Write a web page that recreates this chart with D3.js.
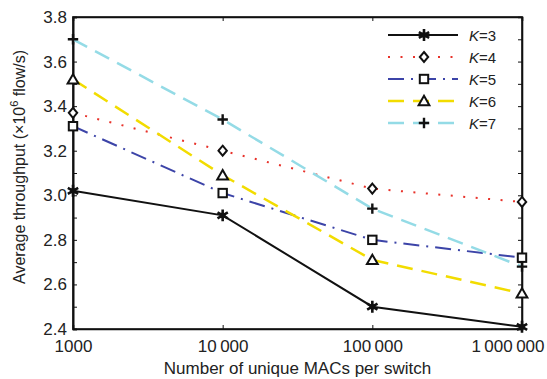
<!DOCTYPE html>
<html lang="en">
<head>
<meta charset="UTF-8">
<title>Average throughput vs unique MACs</title>
<script src="https://d3js.org/d3.v7.min.js"></script>
<style>
  body { margin: 0; background: #fff; }
  text { font-family: "Liberation Sans", Arial, sans-serif; fill: #222; }
</style>
</head>
<body>
<div id="chart"></div>
<script>
// data
const macs = [1000, 10000, 100000, 1000000];
const xTickLabels = ["1000", "10\u2009000", "100\u2009000", "1\u2009000\u2009000"];
const yTicks = [2.4, 2.6, 2.8, 3.0, 3.2, 3.4, 3.6, 3.8];
const k3 = [3.02, 2.91, 2.50, 2.41];
const k4 = [3.37, 3.20, 3.03, 2.97];
const k5 = [3.31, 3.01, 2.80, 2.72];
const k6 = [3.52, 3.09, 2.71, 2.56];
const k7 = [3.70, 3.34, 2.94, 2.68];
const seriesNames = ["3", "4", "5", "6", "7"];

const series = [
  {name: seriesNames[0], values: k3, color: "#111", dash: null, width: 2, marker: "star"},
  {name: seriesNames[1], values: k4, color: "#e8322a", dash: "2,10.5", width: 2, marker: "diamond"},
  {name: seriesNames[2], values: k5, color: "#3c44a8", dash: "16,7,2,7", width: 2, marker: "square"},
  {name: seriesNames[3], values: k6, color: "#f2dc00", dash: "16,9", width: 2.5, marker: "triangle"},
  {name: seriesNames[4], values: k7, color: "#94dbe6", dash: "16,9", width: 2.5, marker: "plus"}
];

const W = 547, H = 379;
const margin = {top: 17, right: 25, bottom: 50, left: 73};
const width = W - margin.left - margin.right;
const height = H - margin.top - margin.bottom;

const svg = d3.select("#chart").append("svg")
  .attr("width", W).attr("height", H);
const g = svg.append("g").attr("transform", `translate(${margin.left},${margin.top})`);

const x = d3.scaleLog().domain([1000, 1000000]).range([0, width]);
const y = d3.scaleLinear().domain([2.4, 3.8]).range([height, 0]);

// axes (ticks pointing inward, MATLAB style)
const minorY = d3.range(2.5, 3.8, 0.2);
const xAxis = g.append("g").attr("transform", `translate(0,${height})`)
  .call(d3.axisBottom(x).tickValues(macs).tickSize(-4).tickPadding(11)
    .tickFormat((d, i) => xTickLabels[i]));
g.append("g")
  .call(d3.axisLeft(y).tickValues(yTicks).tickSize(-4).tickPadding(6).tickFormat(d3.format(".1f")));
g.append("g")
  .call(d3.axisLeft(y).tickValues(minorY).tickSize(-4).tickFormat(""));
g.append("g").attr("transform", `translate(${width},0)`)
  .call(d3.axisRight(y).tickValues(yTicks.concat(minorY)).tickSize(-4).tickFormat(""));
g.append("g")
  .call(d3.axisTop(x).tickValues(macs).tickSize(-4).tickFormat(""));

g.selectAll(".domain").attr("stroke", "#111").attr("stroke-width", 1.6);
g.selectAll(".tick line").attr("stroke", "#111");
g.selectAll(".tick text").style("font-size", "17px").attr("fill", "#222");
// last x label is pulled left so it stays inside the picture
xAxis.selectAll(".tick text").filter((d, i) => i === macs.length - 1)
  .attr("text-anchor", "end").attr("x", 22);

g.append("rect").attr("width", width).attr("height", height)
  .attr("fill", "none").attr("stroke", "#111").attr("stroke-width", 1.6);

// markers
function drawMarker(sel, type) {
  const s = 4.2;
  if (type === "star") {
    sel.append("path").attr("d", d3.symbol(d3.symbolAsterisk, 100)())
      .attr("fill", "none").attr("stroke", "#111").attr("stroke-width", 2.6);
    sel.append("circle").attr("r", 2.8).attr("fill", "#111");
  } else if (type === "diamond") {
    sel.append("path").attr("d", `M0,${-s - 0.8}L${s},0L0,${s + 0.8}L${-s},0Z`)
      .attr("fill", "#fff").attr("stroke", "#111").attr("stroke-width", 2);
  } else if (type === "square") {
    sel.append("rect").attr("x", -s).attr("y", -s).attr("width", 2 * s).attr("height", 2 * s)
      .attr("fill", "#fff").attr("stroke", "#111").attr("stroke-width", 2);
  } else if (type === "triangle") {
    sel.append("path").attr("d", `M0,${-s - 1}L${s + 1.2},${s}L${-s - 1.2},${s}Z`)
      .attr("fill", "#fff").attr("stroke", "#111").attr("stroke-width", 2);
  } else if (type === "plus") {
    sel.append("path").attr("d", `M${-s - 1},0H${s + 1}M0,${-s - 1}V${s + 1}`)
      .attr("stroke", "#111").attr("stroke-width", 2.4);
  }
}

const line = d3.line().x((d, i) => x(macs[i])).y(d => y(d));

series.forEach(s => {
  g.append("path").datum(s.values)
    .attr("d", line).attr("fill", "none")
    .attr("stroke", s.color).attr("stroke-width", s.width)
    .attr("stroke-dasharray", s.dash);
  s.values.forEach((v, i) => {
    const m = g.append("g").attr("transform", `translate(${x(macs[i])},${y(v)})`);
    drawMarker(m, s.marker);
  });
});

// legend
const legend = svg.append("g").attr("transform", "translate(388,35)");
series.forEach((s, i) => {
  const row = legend.append("g").attr("transform", `translate(0,${i * 22})`);
  row.append("line").attr("x1", 0).attr("x2", 70).attr("y1", 0).attr("y2", 0)
    .attr("stroke", s.color).attr("stroke-width", s.width)
    .attr("stroke-dasharray", s.dash);
  drawMarker(row.append("g").attr("transform", "translate(36,0)"), s.marker);
  const t = row.append("text").attr("x", 81).attr("y", 5.5).style("font-size", "15px");
  t.append("tspan").style("font-style", "italic").text("K");
  t.append("tspan").text("=" + s.name);
});

// axis titles
svg.append("text")
  .attr("x", margin.left + width / 2).attr("y", 374)
  .attr("text-anchor", "middle").style("font-size", "17px")
  .text("Number of unique MACs per switch");

const yl = svg.append("text")
  .attr("transform", `translate(25,167) rotate(-90)`)
  .attr("text-anchor", "middle").style("font-size", "16px");
yl.append("tspan").text("Average throughput (\u00d710");
yl.append("tspan").attr("dy", -7).style("font-size", "11px").text("6");
yl.append("tspan").attr("dy", 7).text(" flow/s)");
</script>
</body>
</html>
